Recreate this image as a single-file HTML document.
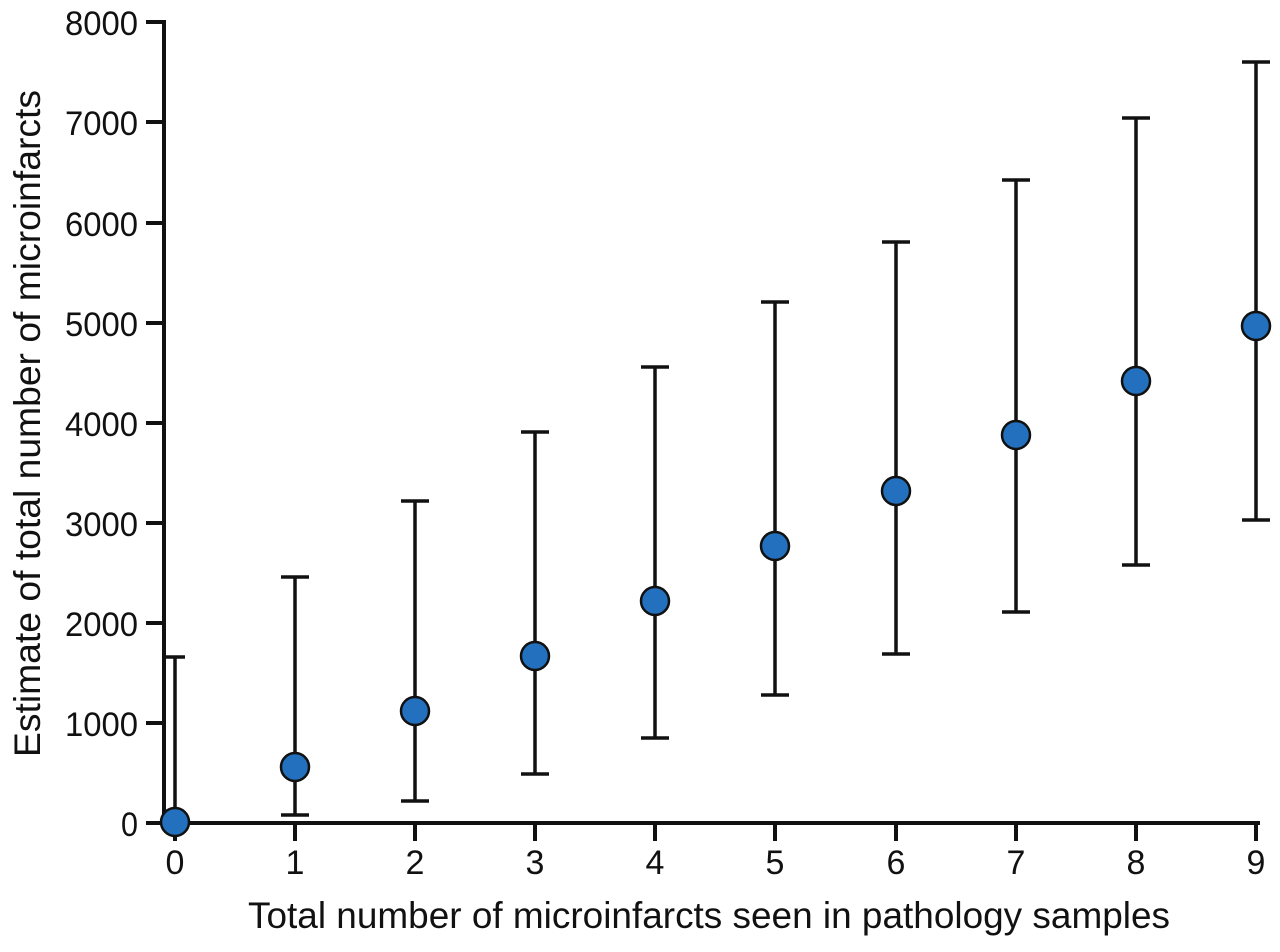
<!DOCTYPE html>
<html><head><meta charset="utf-8"><style>html,body{margin:0;padding:0;background:#fff}</style></head>
<body>
<svg width="1280" height="947" viewBox="0 0 1280 947" xmlns="http://www.w3.org/2000/svg" font-family="Liberation Sans, sans-serif" fill="#111">
<g stroke="#111" stroke-width="4" fill="none">
<line x1="164" y1="20" x2="164" y2="825"/>
<line x1="162" y1="823" x2="1260" y2="823"/>
<line x1="146" y1="22" x2="164" y2="22"/>
<line x1="146" y1="122" x2="164" y2="122"/>
<line x1="146" y1="223" x2="164" y2="223"/>
<line x1="146" y1="323" x2="164" y2="323"/>
<line x1="146" y1="423" x2="164" y2="423"/>
<line x1="146" y1="523" x2="164" y2="523"/>
<line x1="146" y1="623" x2="164" y2="623"/>
<line x1="146" y1="723" x2="164" y2="723"/>
<line x1="146" y1="823" x2="164" y2="823"/>
<line x1="175" y1="823" x2="175" y2="841"/>
<line x1="295" y1="823" x2="295" y2="841"/>
<line x1="415" y1="823" x2="415" y2="841"/>
<line x1="535" y1="823" x2="535" y2="841"/>
<line x1="655" y1="823" x2="655" y2="841"/>
<line x1="775" y1="823" x2="775" y2="841"/>
<line x1="896" y1="823" x2="896" y2="841"/>
<line x1="1016" y1="823" x2="1016" y2="841"/>
<line x1="1136" y1="823" x2="1136" y2="841"/>
<line x1="1256" y1="823" x2="1256" y2="841"/>
</g>
<g stroke="#111" stroke-width="3.5" fill="none">
<path d="M175 657V822M166 657H185"/>
<path d="M295 577V815M281 577H309M281 815H309"/>
<path d="M415 501V801M401 501H429M401 801H429"/>
<path d="M535 432V774M521 432H549M521 774H549"/>
<path d="M655 367V738M641 367H669M641 738H669"/>
<path d="M775 302V695M761 302H789M761 695H789"/>
<path d="M896 242V654M882 242H910M882 654H910"/>
<path d="M1016 180V612M1002 180H1030M1002 612H1030"/>
<path d="M1136 118V565M1122 118H1150M1122 565H1150"/>
<path d="M1256 62V520M1242 62H1270M1242 520H1270"/>
</g>
<g fill="#2370be" stroke="#111" stroke-width="2.5">
<circle cx="175" cy="822" r="14"/>
<circle cx="295" cy="767" r="14"/>
<circle cx="415" cy="711" r="14"/>
<circle cx="535" cy="656" r="14"/>
<circle cx="655" cy="601" r="14"/>
<circle cx="775" cy="546" r="14"/>
<circle cx="896" cy="491" r="14"/>
<circle cx="1016" cy="435" r="14"/>
<circle cx="1136" cy="381" r="14"/>
<circle cx="1256" cy="326" r="14"/>
</g>
<g font-size="34" text-anchor="end">
<text x="138" y="35" textLength="73" lengthAdjust="spacingAndGlyphs">8000</text>
<text x="138" y="135" textLength="73" lengthAdjust="spacingAndGlyphs">7000</text>
<text x="138" y="236" textLength="73" lengthAdjust="spacingAndGlyphs">6000</text>
<text x="138" y="336" textLength="73" lengthAdjust="spacingAndGlyphs">5000</text>
<text x="138" y="436" textLength="73" lengthAdjust="spacingAndGlyphs">4000</text>
<text x="138" y="536" textLength="73" lengthAdjust="spacingAndGlyphs">3000</text>
<text x="138" y="636" textLength="73" lengthAdjust="spacingAndGlyphs">2000</text>
<text x="138" y="736" textLength="73" lengthAdjust="spacingAndGlyphs">1000</text>
<text x="138" y="836" textLength="17" lengthAdjust="spacingAndGlyphs">0</text>
</g>
<g font-size="34" text-anchor="middle">
<text x="175" y="874">0</text><text x="295" y="874">1</text><text x="415" y="874">2</text>
<text x="535" y="874">3</text><text x="655" y="874">4</text><text x="775" y="874">5</text>
<text x="896" y="874">6</text><text x="1016" y="874">7</text><text x="1136" y="874">8</text>
<text x="1256" y="874">9</text>
</g>
<text x="248" y="928" font-size="37" textLength="922" lengthAdjust="spacingAndGlyphs">Total number of microinfarcts seen in pathology samples</text>
<text transform="translate(40,757) rotate(-90)" x="0" y="0" font-size="37" textLength="667" lengthAdjust="spacingAndGlyphs">Estimate of total number of microinfarcts</text>
</svg>
</body></html>
